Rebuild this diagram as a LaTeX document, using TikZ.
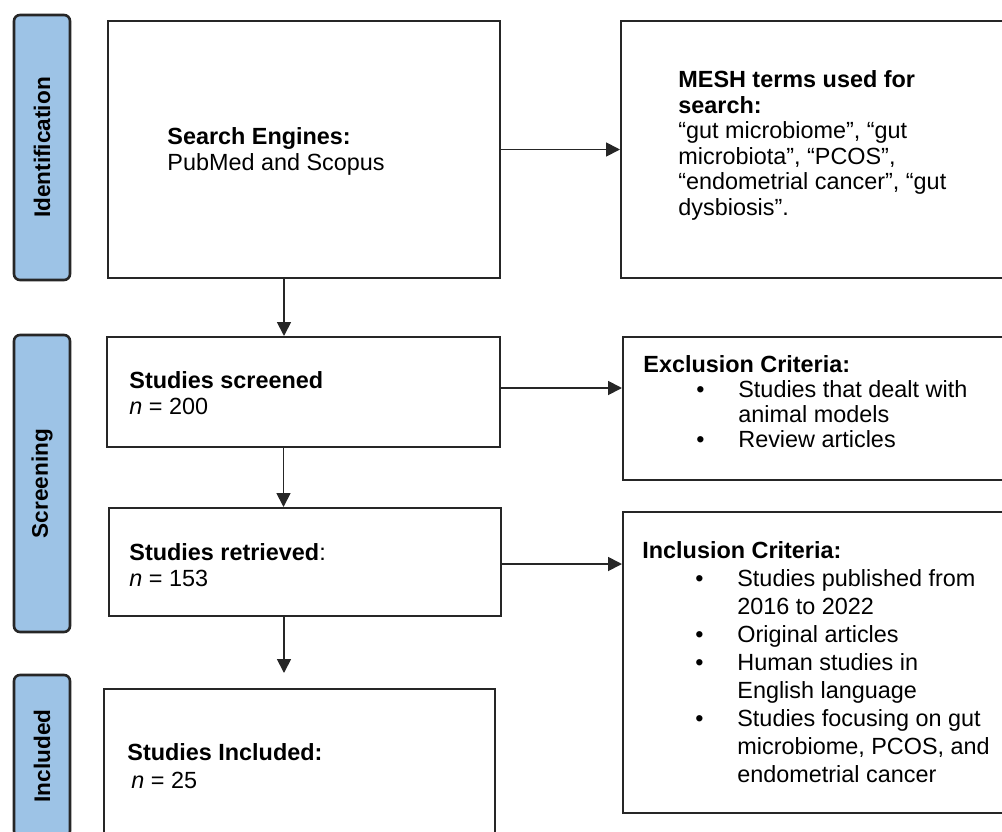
\documentclass[tikz,border=0pt]{standalone}
\usepackage{fontspec}
\setmainfont{Liberation Sans}
\usepackage{tikz}
\usetikzlibrary{arrows.meta}
\definecolor{stageblue}{HTML}{9DC3E6}
\newcommand{\bitem}{\hspace*{26.5pt}\makebox[21pt][l]{\textbullet}}
\newcommand{\bcont}{\hspace*{47.5pt}}

\begin{document}
\begin{tikzpicture}[x=0.5pt,y=-0.5pt,
    stage/.style={draw=black!85,line width=1.3pt,fill=stageblue,rounded corners=3pt,rotate=90,minimum height=28pt,inner sep=0pt,font=\fontsize{11.3}{13}\selectfont\bfseries},
    box/.style={draw=black!85,line width=1pt,anchor=north west,inner sep=0pt},
    txt/.style={anchor=base west,align=left,inner sep=0pt,font=\fontsize{11.7}{13}\selectfont},
    flow/.style={-{Triangle[length=7pt,width=7pt]},line width=0.9pt,black!85}]
   	\useasboundingbox (0,0) rectangle (1002,831);
   	\clip (0,0) rectangle (1002,831);

   	\node[stage,minimum width=132.5pt] (ident) at (42,147.5) {Identification};
   	\node[stage,minimum width=148.5pt] (screen) at (42,483.5) {Screening};
   	\node[stage,minimum width=81pt] (incl_st) at (42,756) {Included};

   	\node[box,minimum width=196pt,minimum height=128.5pt] (search) at (107,20) {};
   	\node[box,minimum width=195pt,minimum height=128.5pt] (mesh) at (620,20) {};
   	\node[box,minimum width=196.5pt,minimum height=55pt] (screened) at (106,336) {};
   	\node[box,minimum width=195pt,minimum height=71.5pt] (excl) at (622,336) {};
   	\node[box,minimum width=196pt,minimum height=54pt] (retrieved) at (108,507) {};
   	\node[box,minimum width=195pt,minimum height=150.5pt] (incl) at (622,511) {};
   	\node[box,minimum width=195.5pt,minimum height=85pt] (included) at (103,688) {};

   	\node[txt] (search_t) at (167,170) {\textbf{Search Engines:}\\PubMed and Scopus};
   	\node[txt,font=\fontsize{11.7}{12.75}\selectfont] (mesh_t) at (678,215) {\textbf{MESH terms used for}\\\textbf{search:}\\“gut microbiome”, “gut\\microbiota”, “PCOS”,\\“endometrial cancer”, “gut\\dysbiosis”.};
   	\node[txt] (screened_t) at (129,414) {\textbf{Studies screened}\\\textit{n} = 200};
   	\node[txt,font=\fontsize{11.7}{12.5}\selectfont] (excl_t) at (643,447) {\textbf{Exclusion Criteria:}\\\bitem Studies that dealt with\\\bcont animal models\\\bitem Review articles};
   	\node[txt] (retrieved_t) at (129,586) {\textbf{Studies retrieved}:\\\textit{n} = 153};
   	\node[txt,font=\fontsize{11.7}{14}\selectfont] (incl_t) at (642,782) {\textbf{Inclusion Criteria:}\\\bitem Studies published from\\\bcont 2016 to 2022\\\bitem Original articles\\\bitem Human studies in\\\bcont English language\\\bitem Studies focusing on gut\\\bcont microbiome, PCOS, and\\\bcont endometrial cancer};
   	\node[txt,font=\fontsize{11.7}{14}\selectfont] (included_t) at (127,788) {\textbf{Studies Included:}\\\hspace*{2pt}\textit{n} = 25};

   	\draw[flow] (search.east) -- (search.east -| mesh.west);
   	\draw[flow] ([yshift=2pt]screened.east) -- ([yshift=2pt]screened.east -| excl.west);
   	\draw[flow] ([yshift=-1pt]retrieved.east) -- ([yshift=-1pt]retrieved.east -| incl.west);
   	\draw[flow] ([xshift=-10pt]search.south) -- ([xshift=-10pt]search.south |- screened.north);
   	\draw[flow] ([xshift=-10pt]screened.south) -- ([xshift=-10pt]screened.south |- retrieved.north);
   	\draw[flow,shorten >=7.5pt] ([xshift=-10.5pt]retrieved.south) -- ([xshift=-10.5pt]retrieved.south |- included.north);
\end{tikzpicture}
\end{document}
